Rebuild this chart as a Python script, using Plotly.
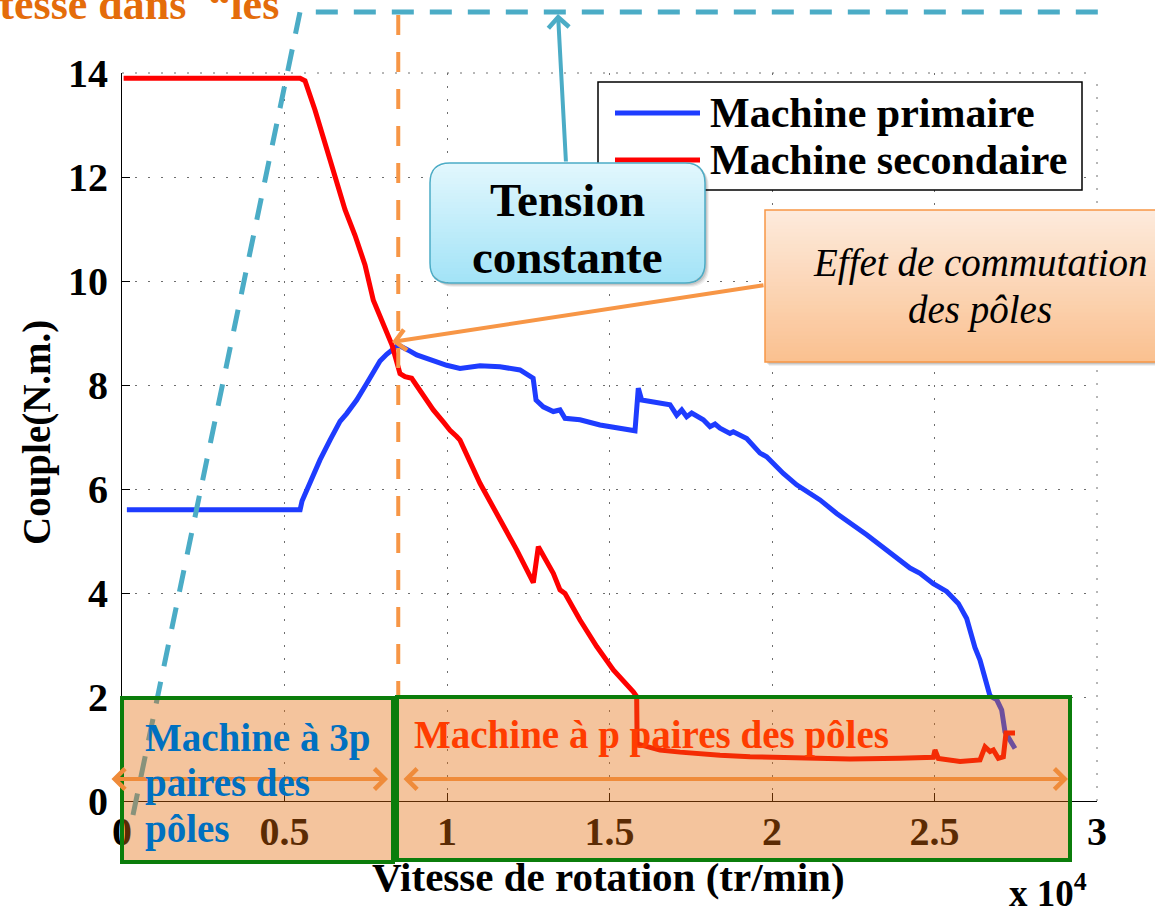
import plotly.graph_objects as go

# ---------------------------------------------------------------- data
series_names = ["Machine primaire", "Machine secondaire"]
series_colors = ["#1E3CFF", "#FF0000"]

# Primary machine: speed (tr/min) / torque (N.m)
speed_primaire = [150, 5480, 5540, 5846, 6092, 6400, 6708, 6913, 7221, 7529,
                  7938, 8144, 8400, 8500, 8809, 9068, 9991, 10400, 11015, 11631,
                  12246, 12451, 12650, 12740, 12963, 13271, 13477, 13631, 14092, 14708,
                  15785, 15886, 15991, 16862, 17068, 17222, 17375, 17529, 17886, 18092,
                  18246, 18400, 18708, 18809, 19222, 19631, 19836, 20348, 20758, 21477,
                  21990, 22913, 23938, 24246, 24554, 24963, 25374, 25733, 25990, 26246,
                  26400, 26554, 26656, 26708, 26913, 27067, 27169, 27477]
couple_primaire = [5.60, 5.60, 5.77, 6.24, 6.56, 6.94, 7.30, 7.45, 7.71, 8.03,
                   8.46, 8.59, 8.71, 8.77, 8.67, 8.58, 8.38, 8.32, 8.37, 8.35,
                   8.29, 8.22, 8.13, 7.71, 7.58, 7.49, 7.52, 7.36, 7.33, 7.23,
                   7.12, 7.94, 7.71, 7.62, 7.42, 7.52, 7.39, 7.46, 7.33, 7.20,
                   7.25, 7.17, 7.07, 7.10, 6.97, 6.69, 6.62, 6.30, 6.08, 5.79,
                   5.53, 5.12, 4.63, 4.48, 4.38, 4.18, 4.03, 3.80, 3.51, 2.95,
                   2.71, 2.39, 2.13, 2.02, 1.95, 1.75, 1.33, 1.01]

# Secondary machine: speed (tr/min) / torque (N.m)
speed_secondaire = [50, 5480, 5631, 5938, 6400, 6862, 7169, 7477, 7733, 8092,
                    8308, 8554, 8708, 8913, 9169, 9578, 9886, 10092, 10298, 10400,
                    11015, 11528, 11836, 12144, 12656, 12810, 13271, 13477, 13631, 14092,
                    14606, 15118, 15733, 15836, 15850, 16092, 16554, 17169, 17785, 18400,
                    19323, 20862, 22400, 23938, 24963, 25015, 25118, 25785, 26400, 26554,
                    26708, 26810, 26964, 27118, 27200, 27477]
couple_secondaire = [13.9, 13.9, 13.85, 13.29, 12.33, 11.37, 10.88, 10.31, 9.63, 9.06,
                     8.77, 8.22, 8.16, 8.13, 7.90, 7.52, 7.29, 7.13, 7.01, 6.94,
                     6.11, 5.53, 5.14, 4.83, 4.20, 4.89, 4.38, 4.06, 3.99, 3.48,
                     2.97, 2.52, 2.10, 2.01, 1.10, 1.06, 0.98, 0.94, 0.90, 0.88,
                     0.85, 0.83, 0.81, 0.82, 0.84, 0.98, 0.82, 0.76, 0.79, 1.04,
                     0.95, 0.98, 0.82, 0.85, 1.31, 1.31]

x_tick_vals = [0, 5000, 10000, 15000, 20000, 25000, 30000]
x_tick_text = ["0", "0.5", "1", "1.5", "2", "2.5", "3"]
y_tick_vals = [0, 2, 4, 6, 8, 10, 12, 14]
x_range = [0, 30000]
y_range = [0, 14]
switch_speed = 8500  # pole-commutation speed (tr/min)

# ---------------------------------------------------------------- layout geometry (pixels)
W, H = 1155, 913
PL, PR, PT, PB = 122, 1097, 73, 801
SERIF = "Liberation Serif"
GRID_COLOR = "#6e6e6e"
GRID_DASH = "2px,11px"


def px(x):
    return (x - PL) / (PR - PL)


def py(y):
    return (PB - y) / (PB - PT)


def path_from(points, close=True):
    s = "M " + " L ".join(f"{px(x):.5f},{py(y):.5f}" for x, y in points)
    return s + (" Z" if close else "")


def mix(c1, c2, t):
    a = [int(c1[i:i + 2], 16) for i in (1, 3, 5)]
    b = [int(c2[i:i + 2], 16) for i in (1, 3, 5)]
    return "rgb(%d,%d,%d)" % tuple(round(a[k] + (b[k] - a[k]) * t) for k in range(3))


def rounded_inset(y, y0, y1, r):
    d = max(0.0, (y0 + r) - y, y - (y1 - r))
    d = min(d, r)
    return r - (r * r - d * d) ** 0.5


def rounded_path(x0, y0, x1, y1, r):
    if r <= 0:
        return path_from([(x0, y0), (x1, y0), (x1, y1), (x0, y1)])
    P = lambda x, y: f"{px(x):.5f},{py(y):.5f}"
    return (f"M {P(x0 + r, y0)} L {P(x1 - r, y0)} Q {P(x1, y0)} {P(x1, y0 + r)} "
            f"L {P(x1, y1 - r)} Q {P(x1, y1)} {P(x1 - r, y1)} L {P(x0 + r, y1)} "
            f"Q {P(x0, y1)} {P(x0, y1 - r)} L {P(x0, y0 + r)} Q {P(x0, y0)} {P(x0 + r, y0)} Z")


def gradient_box(x0, y0, x1, y1, r, c_top, c_bot, border, n=40):
    shapes = []
    # soft drop shadow
    for k, a in ((4, 0.06), (3, 0.08), (2, 0.10)):
        shapes.append(dict(type="path", xref="paper", yref="paper", layer="above",
                           path=rounded_path(x0 + k, y0 + k, x1 + k, y1 + k, r),
                           fillcolor=f"rgba(0,0,0,{a})", line=dict(width=0)))
    for i in range(n):
        ya = y0 + (y1 - y0) * i / n
        yb = min(y1, y0 + (y1 - y0) * (i + 1) / n + 0.7)
        ia = rounded_inset(ya, y0, y1, r)
        ib = rounded_inset(yb, y0, y1, r)
        pts = [(x0 + ia, ya), (x1 - ia, ya), (x1 - ib, yb), (x0 + ib, yb)]
        shapes.append(dict(type="path", xref="paper", yref="paper", layer="above",
                           path=path_from(pts), fillcolor=mix(c_top, c_bot, (i + 0.5) / n),
                           line=dict(width=0)))
    shapes.append(dict(type="path", xref="paper", yref="paper", layer="above",
                       path=rounded_path(x0, y0, x1, y1, r),
                       line=dict(color=border, width=1.5)))
    return shapes


def text(x, y, s, size, color="black", xanchor="center", yanchor="middle",
         bold=True, italic=False, angle=0):
    return dict(x=px(x), y=py(y), xref="paper", yref="paper", text=s, showarrow=False,
                xanchor=xanchor, yanchor=yanchor, textangle=angle,
                font=dict(family=SERIF, size=size, color=color,
                          weight="bold" if bold else "normal",
                          style="italic" if italic else "normal"))


def arrow(tail, tip, color, width=4, both=False):
    d = dict(x=px(tip[0]), y=py(tip[1]), xref="paper", yref="paper", text="",
             showarrow=True, ax=tail[0] - tip[0], ay=tail[1] - tip[1],
             arrowhead=4, arrowsize=1, arrowwidth=width, arrowcolor=color,
             standoff=0, startstandoff=0)
    if both:
        d.update(arrowside="end+start", startarrowhead=4, startarrowsize=1)
    return d


# ---------------------------------------------------------------- figure
fig = go.Figure()
fig.add_trace(go.Scatter(x=speed_primaire, y=couple_primaire, mode="lines",
                         name=series_names[0], line=dict(color=series_colors[0], width=5),
                         showlegend=False))
fig.add_trace(go.Scatter(x=speed_secondaire, y=couple_secondaire, mode="lines",
                         name=series_names[1], line=dict(color=series_colors[1], width=5),
                         showlegend=False))

tick_font = dict(family=SERIF, size=40, color="black", weight="bold")
grid = dict(showgrid=True, gridcolor=GRID_COLOR, gridwidth=1, griddash=GRID_DASH,
            zeroline=False, showline=True, linecolor="black", linewidth=1,
            ticks="inside", ticklen=8, tickcolor="black", tickfont=tick_font)

fig.update_layout(
    width=W, height=H, margin=dict(l=PL, r=W - PR, t=PT, b=H - PB),
    paper_bgcolor="white", plot_bgcolor="white",
    xaxis=dict(range=x_range, tickvals=x_tick_vals, ticktext=x_tick_text,
               ticklabelstandoff=-5, **grid),
    yaxis=dict(range=y_range, tickvals=y_tick_vals, ticklabelstandoff=5, **grid),
)

shapes = []
annotations = []

# dotted frame on the open top and right sides
shapes.append(dict(type="line", xref="paper", yref="paper", layer="below",
                   x0=0, x1=1, y0=1, y1=1,
                   line=dict(color=GRID_COLOR, width=1, dash=GRID_DASH)))
shapes.append(dict(type="line", xref="paper", yref="paper", layer="below",
                   x0=1, x1=1, y0=0, y1=1,
                   line=dict(color=GRID_COLOR, width=1, dash=GRID_DASH)))

# legend
shapes.append(dict(type="rect", xref="paper", yref="paper", layer="above",
                   x0=px(598), x1=px(1082), y0=py(82), y1=py(190),
                   fillcolor="white", line=dict(color="black", width=1.5)))
for i, (ly, name) in enumerate(zip((113, 160), series_names)):
    shapes.append(dict(type="line", xref="paper", yref="paper", layer="above",
                       x0=px(615), x1=px(700), y0=py(ly), y1=py(ly),
                       line=dict(color=series_colors[i], width=5)))
    annotations.append(text(708, ly, name, 42, xanchor="left"))

# constant-voltage dashed envelope
shapes.append(dict(type="path", xref="paper", yref="paper", layer="above",
                   path=path_from([(133, 815), (300, 12), (1108, 12)], close=False),
                   line=dict(color="#4BACC6", width=5, dash="22px,16px")))

# pole-switching speed marker
shapes.append(dict(type="line", xref="paper", yref="paper", layer="above",
                   x0=switch_speed / x_range[1], x1=switch_speed / x_range[1],
                   y0=py(15), y1=py(697),
                   line=dict(color="#F79646", width=4, dash="20px,17px")))

# speed zones
zone_fill = "rgba(227,108,9,0.40)"
shapes.append(dict(type="rect", xref="paper", yref="paper", layer="above",
                   x0=px(122), x1=px(393), y0=py(862), y1=py(698),
                   fillcolor=zone_fill, line=dict(color="#0B7D0B", width=4)))
shapes.append(dict(type="rect", xref="paper", yref="paper", layer="above",
                   x0=px(397), x1=px(1070), y0=py(860), y1=py(697),
                   fillcolor=zone_fill, line=dict(color="#0B7D0B", width=4)))

# callouts
shapes += gradient_box(430, 163, 705, 283, 20, "#E2F7FD", "#A2E3F7", "#4BACC6")
shapes += gradient_box(765, 210, 1165, 362, 0, "#FDEBDD", "#FAC08F", "#F79646")

# arrows
annotations.append(arrow((566, 163), (558, 14), "#4BACC6"))
annotations.append(arrow((765, 285), (392, 342), "#F79646"))
annotations.append(arrow((110, 779), (388, 779), "#EF8B3A", both=True))
annotations.append(arrow((402, 779), (1068, 779), "#EF8B3A", both=True))

# texts
annotations.append(text(281, 31, "Vitesse dans  “les", 44, color="#E46C0A",
                        xanchor="right", yanchor="bottom"))
annotations.append(text(567, 200, "Tension", 47))
annotations.append(text(567, 257, "constante", 47))
annotations.append(text(980, 263, "Effet de commutation", 39, bold=False, italic=True))
annotations.append(text(980, 310, "des pôles", 39, bold=False, italic=True))
annotations.append(text(143, 738, "Machine à 3p", 39, color="#0070C0", xanchor="left"))
annotations.append(text(143, 783, "paires des", 39, color="#0070C0", xanchor="left"))
annotations.append(text(143, 829, "pôles", 39, color="#0070C0", xanchor="left"))
annotations.append(text(412, 735, "Machine à p paires des pôles", 39, color="#FF3C00",
                        xanchor="left"))

# axis titles
annotations.append(text(608, 877, "Vitesse de rotation (tr/min)", 41))
annotations.append(text(37, 433, "Couple(N.m.)", 39, angle=-90))
annotations.append(text(1048, 890, "x 10<sup>4</sup>", 37))

fig.update_layout(shapes=shapes, annotations=annotations)
fig.write_html("out.html")
